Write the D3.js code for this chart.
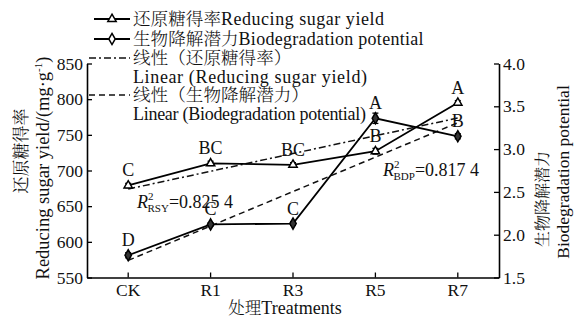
<!DOCTYPE html>
<html>
<head>
<meta charset="utf-8">
<script src="https://cdn.jsdelivr.net/npm/d3@7/dist/d3.min.js"></script>
<style>
  html, body { margin: 0; padding: 0; background: #fff; }
  svg { display: block; }
</style>
</head>
<body>
<svg id="chart" width="578" height="320"></svg>
<script>
// Treatments on the x axis
const categories = ["CK", "R1", "R3", "R5", "R7"];

// Reducing sugar yield (mg/g), left axis
const rsyValues = [679, 710, 708, 727, 795];
const rsyErrors = [3, 3, 3, 4, 3];
const rsyLetters = ["C", "BC", "BC", "B", "A"];

// Biodegradation potential, right axis
const bdpValues = [1.76, 2.12, 2.13, 3.36, 3.15];
const bdpErrors = [0.03, 0.02, 0.02, 0.06, 0.03];
const bdpLetters = ["D", "C", "C", "A", "B"];

// Axis ticks
const leftTicks = [550, 600, 650, 700, 750, 800, 850];
const rightTicks = [1.5, 2.0, 2.5, 3.0, 3.5, 4.0];

const svg = d3.select("#chart");
const plot = { left: 87, right: 499, top: 63.5, bottom: 277.5 };
const SERIF = '"Liberation Serif", "Times New Roman", serif';
const CJK = '"Noto Serif CJK SC", "Noto Sans CJK SC", sans-serif';

const x = d3.scaleBand().domain(categories).range([plot.left, plot.right]).padding(0);
const cx = c => x(c) + x.bandwidth() / 2;
const yL = d3.scaleLinear().domain([550, 850]).range([plot.bottom, plot.top]);
const yR = d3.scaleLinear().domain([1.5, 4.0]).range([plot.bottom, plot.top]);

// Axes (ticks point inward)
const gx = svg.append("g").attr("transform", `translate(0,${plot.bottom})`)
  .call(d3.axisBottom(x).tickSizeInner(-5).tickSizeOuter(0).tickPadding(6));
const gl = svg.append("g").attr("transform", `translate(${plot.left},0)`)
  .call(d3.axisLeft(yL).tickValues(leftTicks).tickSizeInner(-5).tickSizeOuter(0).tickPadding(4));
const gr = svg.append("g").attr("transform", `translate(${plot.right},0)`)
  .call(d3.axisRight(yR).tickValues(rightTicks).tickFormat(d3.format(".1f")).tickSizeInner(-5).tickSizeOuter(0).tickPadding(4));
[gx, gl, gr].forEach(g => {
  g.selectAll("path.domain").attr("stroke", "#000").attr("stroke-width", 1.6);
  g.selectAll(".tick line").attr("stroke", "#000").attr("stroke-width", 1.3);
  g.selectAll(".tick text").attr("fill", "#111").style("font-family", SERIF).style("font-size", "17.5px");
});
gx.selectAll(".tick text").attr("dy", "0.72em");

// Least-squares trend line over treatment order
function fit(vals) {
  const xs = vals.map((_, i) => i + 1);
  const mx = d3.mean(xs), my = d3.mean(vals);
  const b = d3.sum(xs, (xi, i) => (xi - mx) * (vals[i] - my)) / d3.sum(xs, xi => (xi - mx) ** 2);
  const a = my - b * mx;
  return xs.map(xi => a + b * xi);
}

const line = (yScale) => d3.line().x((d, i) => cx(categories[i])).y(d => yScale(d));

// Trend lines
svg.append("path").datum(fit(rsyValues)).attr("d", line(yL))
  .attr("fill", "none").attr("stroke", "#111").attr("stroke-width", 1.5).attr("stroke-dasharray", "7,3,2,3");
svg.append("path").datum(fit(bdpValues)).attr("d", line(yR))
  .attr("fill", "none").attr("stroke", "#111").attr("stroke-width", 1.5).attr("stroke-dasharray", "6,4");

// Data lines
svg.append("path").datum(rsyValues).attr("d", line(yL))
  .attr("fill", "none").attr("stroke", "#000").attr("stroke-width", 1.8);
svg.append("path").datum(bdpValues).attr("d", line(yR))
  .attr("fill", "none").attr("stroke", "#000").attr("stroke-width", 1.8);

// Error bars
function errorBars(vals, errs, yScale) {
  const g = svg.append("g").attr("stroke", "#000").attr("stroke-width", 1.3);
  vals.forEach((v, i) => {
    const px = cx(categories[i]);
    const y1 = yScale(v + errs[i]), y2 = yScale(v - errs[i]);
    g.append("line").attr("x1", px).attr("x2", px).attr("y1", y1).attr("y2", y2);
    g.append("line").attr("x1", px - 3).attr("x2", px + 3).attr("y1", y1).attr("y2", y1);
    g.append("line").attr("x1", px - 3).attr("x2", px + 3).attr("y1", y2).attr("y2", y2);
  });
}
errorBars(rsyValues, rsyErrors, yL);
errorBars(bdpValues, bdpErrors, yR);

// Markers
const tri = d3.symbol().type(d3.symbolTriangle).size(30);
const dia = d3.symbol().type(d3.symbolDiamond).size(36);
svg.append("g").selectAll("path").data(rsyValues).join("path")
  .attr("d", tri).attr("transform", (d, i) => `translate(${cx(categories[i])},${yL(d)})`)
  .attr("fill", "#fff").attr("stroke", "#000").attr("stroke-width", 1.5);
svg.append("g").selectAll("path").data(bdpValues).join("path")
  .attr("d", dia).attr("transform", (d, i) => `translate(${cx(categories[i])},${yR(d)})`)
  .attr("fill", "#333").attr("stroke", "#000").attr("stroke-width", 1.5);

// Significance letters
function letters(vals, labs, yScale) {
  svg.append("g").selectAll("text").data(vals).join("text")
    .attr("x", (d, i) => cx(categories[i])).attr("y", d => yScale(d) - 9)
    .attr("text-anchor", "middle").style("font-family", SERIF).style("font-size", "18px").attr("fill", "#111")
    .text((d, i) => labs[i]);
}
letters(rsyValues, rsyLetters, yL);
letters(bdpValues, bdpLetters, yR);

// R² annotations
function rLabel(px, py, sub, val) {
  const t = svg.append("text").attr("x", px).attr("y", py).style("font-family", SERIF).style("font-size", "18px").attr("fill", "#111");
  t.append("tspan").style("font-style", "italic").text("R");
  t.append("tspan").style("font-size", "11px").attr("dy", -8).text("2");
  t.append("tspan").style("font-size", "11px").attr("dx", -6).attr("dy", 12).text(sub);
  t.append("tspan").attr("dy", -4).text(val);
}
rLabel(137, 208, "RSY", "=0.825 4");
rLabel(383, 176, "BDP", "=0.817 4");

// Axis titles (rotated, reading bottom to top)
function vtitle(px, py, size, parts) {
  const t = svg.append("text").attr("transform", `translate(${px},${py}) rotate(-90)`)
    .attr("text-anchor", "middle").attr("dy", "0.35em").attr("fill", "#111").style("font-size", size + "px");
  parts.forEach(p => {
    const s = t.append("tspan").style("font-family", p.f).text(p.t);
    if (p.size) s.style("font-size", p.size);
    if (p.dy !== undefined) s.attr("dy", p.dy);
  });
}
vtitle(21, 151, 17, [{ t: "还原糖得率", f: CJK }]);
vtitle(43, 168, 18.5, [
  { t: "Reducing sugar yield/(mg·g", f: SERIF },
  { t: "-1", f: SERIF, size: "11px", dy: -7 },
  { t: ")", f: SERIF, dy: 7 }
]);
vtitle(542, 199, 16, [{ t: "生物降解潜力", f: CJK }]);
vtitle(563, 172, 17.5, [{ t: "Biodegradation potential", f: SERIF }]);

// X title
const xt = svg.append("text").attr("x", 285).attr("y", 314).attr("text-anchor", "middle")
  .attr("fill", "#111").style("font-size", "18px");
xt.append("tspan").style("font-family", CJK).style("font-weight", 300).style("font-size", "16.5px").text("处理");
xt.append("tspan").style("font-family", SERIF).text("Treatments");

// Legend
const legend = svg.append("g");
const rows = [
  { y: 19, key: "rsy", parts: [{ t: "还原糖得率", f: CJK }, { t: "Reducing sugar yield", f: SERIF, len: 163 }] },
  { y: 39, key: "bdp", parts: [{ t: "生物降解潜力", f: CJK }, { t: "Biodegradation potential", f: SERIF, len: 185 }] },
  { y: 58, key: "rsyFit", parts: [{ t: "线性（还原糖得率）", f: CJK }] },
  { y: 77, key: null, parts: [{ t: "Linear (Reducing sugar yield)", f: SERIF, len: 234 }] },
  { y: 95, key: "bdpFit", parts: [{ t: "线性（生物降解潜力）", f: CJK }] },
  { y: 114, key: null, parts: [{ t: "Linear (Biodegradation potential)", f: SERIF, len: 233 }] }
];
rows.forEach(r => {
  const t = legend.append("text").attr("x", 133).attr("y", r.y).attr("dy", "0.35em").attr("fill", "#111");
  r.parts.forEach(p => {
    const s = t.append("tspan").style("font-family", p.f).text(p.t);
    if (p.f === CJK) s.style("font-size", "17.6px").style("font-weight", 300);
    else s.style("font-size", "18px");
    if (p.len) s.attr("textLength", p.len).attr("lengthAdjust", "spacing");
  });
  if (r.key === "rsy" || r.key === "bdp") {
    legend.append("line").attr("x1", 94).attr("x2", 130).attr("y1", r.y).attr("y2", r.y)
      .attr("stroke", "#000").attr("stroke-width", 1.8);
    legend.append("path").attr("d", r.key === "rsy" ? tri : dia)
      .attr("transform", `translate(112,${r.y})`).attr("fill", "#fff").attr("stroke", "#000").attr("stroke-width", 1.5);
  } else if (r.key) {
    legend.append("line").attr("x1", 89).attr("x2", 130).attr("y1", r.y).attr("y2", r.y)
      .attr("stroke", "#111").attr("stroke-width", 1.5)
      .attr("stroke-dasharray", r.key === "rsyFit" ? "7,3,2,3" : "6,4");
  }
});
</script>
</body>
</html>
